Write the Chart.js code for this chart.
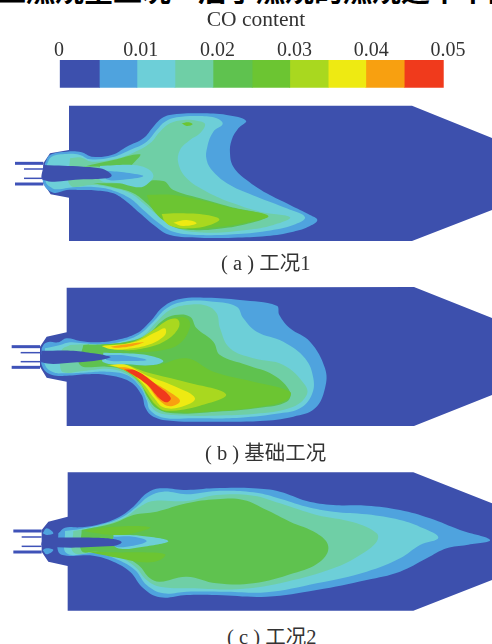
<!DOCTYPE html>
<html>
<head>
<meta charset="utf-8">
<script src="https://cdn.jsdelivr.net/npm/chart.js@4"></script>
<style>
html, body { margin: 0; padding: 0; background: #fff; overflow: hidden; }
canvas { position: absolute; left: 0; filter: blur(0.6px); }
.caption { position: absolute; left: 0; color: #333; font: 20.5px "Liberation Serif", "Noto Sans CJK SC", serif; white-space: pre; }
.cut { position: absolute; top: 0; height: 4px; overflow: hidden; white-space: pre; }
.cut span { position: relative; top: -27px; font: bold 29px/32px "Noto Sans CJK SC", sans-serif; color: #000; }
</style>
</head>
<body>
<div class="cut" style="left:-3px">工燃烧室工况</div>
<div class="cut" style="left:198px">后于燃烧的燃烧速率下降</div>
<canvas id="bar" width="492" height="100" style="top:0"></canvas>
<canvas id="a" width="492" height="150" style="top:100px"></canvas>
<canvas id="b" width="492" height="150" style="top:285px"></canvas>
<canvas id="c" width="492" height="150" style="top:465px"></canvas>
<div class="caption" style="left:221px;top:246px">( a ) 工况1</div>
<div class="caption" style="left:205px;top:436px">( b ) 基础工况</div>
<div class="caption" style="left:227px;top:620px">( c ) 工况2</div>
<script>
document.querySelectorAll('.cut').forEach(d => { d.innerHTML = '<span>' + d.textContent + '</span>'; });

const barTitle = 'CO content';
const tickLabels = ['0', '0.01', '0.02', '0.03', '0.04', '0.05'];
// band edges read against the tick labels
const bandEdges = [-0.0005, 0.0046, 0.0095, 0.01445, 0.0194, 0.0245, 0.0294, 0.0344, 0.0393, 0.0443, 0.0494];
const bandColors = ['#3d50ad', '#4fa3de', '#6dcfd8', '#6fcfa6', '#5fc24f', '#6cc532', '#a9d81f', '#eeea12', '#f8a010', '#f03a1c'];

// contours. units: 1/3 px from each panel's top left
const a_wall = [[207,17],[1236,17],[1476,114],[1476,330],[1236,423],[207,423],[207,293],[152,283],[130,250],[130,190],[150,160],[207,150],[207,17]];
const a_1 = [[135,190],[150,165],[200,155],[245,157],[275,170],[335,165],[380,140],[430,115],[460,80],[490,52],[530,42],[600,40],[680,45],[738,62],[715,85],[695,120],[690,160],[700,200],[740,240],[800,280],[870,315],[930,345],[952,360],[930,378],[880,395],[800,408],[700,413],[600,413],[510,405],[465,378],[420,340],[380,305],[340,280],[295,272],[240,270],[200,270],[160,278],[130,250],[135,190]];
const a_2 = [[140,195],[155,170],[200,162],[240,165],[270,178],[335,172],[390,150],[440,125],[470,90],[495,65],[530,52],[600,48],[650,55],[668,72],[640,95],[622,140],[620,180],[640,215],[690,255],[770,290],[860,325],[915,352],[880,375],[800,393],[700,403],[600,405],[520,395],[475,368],[430,330],[390,295],[340,272],[290,262],[220,262],[170,268],[150,260],[137,245],[140,195]];
const a_3 = [[210,175],[240,172],[275,185],[340,178],[400,158],[450,130],[480,95],[510,70],[550,60],[590,62],[615,72],[600,100],[570,120],[540,150],[535,190],[560,235],[620,275],[700,310],[780,335],[870,352],[820,375],[740,390],[620,398],[530,385],[480,352],[430,310],[390,280],[330,262],[280,255],[210,255],[210,175]];
const a_4_top = [[250,200],[340,180],[420,163],[400,190],[380,205],[300,200],[250,200]];
const a_4_low = [[280,250],[400,248],[490,243],[520,270],[600,295],[690,320],[800,348],[740,372],[650,387],[580,390],[520,380],[480,350],[440,310],[400,280],[340,262],[280,250]];
const a_5 = [[440,285],[520,285],[600,300],[700,325],[805,348],[730,370],[650,382],[560,387],[500,367],[460,330],[440,285]];
const a_5_eye = [[545,70],[565,67],[578,73],[560,78],[545,70]];
const a_6 = [[485,342],[540,340],[620,345],[658,358],[630,375],[570,385],[520,380],[495,365],[485,342]];
const a_7 = [[520,368],[560,360],[590,370],[550,378],[520,368]];
const a_wake_2 = [[300,198],[400,195],[440,205],[460,225],[450,245],[420,262],[360,250],[300,240],[300,198]];
const a_wake_1 = [[320,212],[380,218],[430,228],[380,238],[320,238],[320,212]];
const a_core = [[130,195],[250,200],[300,205],[325,215],[335,227],[320,235],[250,238],[130,240],[130,195]];
const a_pipes = [[[45,190],[130,190]], [[72,207],[130,207]], [[72,235],[130,235]], [[45,252],[130,252]]];

const b_wall = [[200,8],[1242,6],[1476,99],[1476,330],[1242,423],[200,423],[200,290],[140,278],[120,245],[120,185],[140,155],[200,142],[200,8]];
const b_1 = [[125,190],[135,175],[150,170],[175,172],[200,160],[240,168],[290,172],[350,165],[410,145],[450,110],[490,65],[540,42],[620,38],[720,45],[830,62],[838,90],[870,130],[930,170],[975,250],[975,310],[945,370],[880,395],[780,408],[640,410],[520,408],[460,395],[437,370],[425,330],[390,290],[320,270],[260,268],[200,272],[150,268],[125,240],[125,190]];
const b_2 = [[135,190],[180,180],[210,172],[250,175],[300,178],[360,170],[415,150],[460,110],[500,70],[550,50],[640,50],[710,65],[730,100],[770,140],[850,170],[915,220],[940,280],[935,330],[900,370],[840,385],[720,398],[580,400],[490,398],[450,375],[440,345],[420,305],[380,270],[320,260],[250,263],[190,265],[160,262],[135,240],[135,190]];
const b_3 = [[210,180],[260,178],[310,180],[370,172],[425,155],[470,110],[510,75],[560,60],[620,62],[650,85],[660,130],[690,190],[760,220],[850,240],[915,300],[920,330],[880,365],[780,385],[640,392],[520,390],[470,380],[445,350],[425,310],[385,270],[330,252],[250,258],[190,262],[180,240],[185,195],[210,180]];
const b_4 = [[250,180],[310,178],[380,170],[440,150],[490,105],[525,90],[570,95],[590,130],[640,170],[660,210],[740,240],[820,270],[870,320],[860,350],[780,368],[650,380],[520,385],[470,370],[445,340],[420,295],[370,255],[320,245],[240,240],[250,180]];
const b_5_top = [[300,180],[380,172],[430,158],[480,120],[520,100],[560,100],[570,125],[540,175],[490,195],[400,200],[300,180]];
const b_5_low = [[330,245],[470,240],[560,220],[640,260],[760,290],[870,320],[860,345],[780,365],[650,378],[520,382],[470,368],[440,330],[420,290],[370,250],[330,245]];
const b_6_top = [[310,182],[400,170],[460,135],[510,103],[535,105],[535,130],[500,165],[440,188],[360,195],[310,182]];
const b_6_low = [[320,240],[370,238],[440,262],[560,292],[678,328],[600,362],[500,377],[468,360],[438,320],[408,280],[370,254],[320,240]];
const b_7_top = [[305,183],[400,172],[470,140],[495,130],[495,150],[450,178],[380,192],[330,192],[305,183]];
const b_7_low = [[330,240],[372,238],[442,272],[522,303],[585,340],[540,367],[490,367],[463,340],[428,295],[380,256],[330,240]];
const b_8_top = [[330,185],[430,172],[400,182],[350,188],[330,185]];
const b_8_low = [[350,247],[388,250],[452,287],[512,323],[540,348],[510,364],[478,346],[438,296],[398,266],[350,247]];
const b_9 = [[372,253],[410,258],[470,300],[512,338],[500,352],[478,340],[440,298],[372,253]];
const b_wake_2 = [[310,203],[380,205],[450,212],[490,228],[460,240],[380,238],[310,232],[310,203]];
const b_wake_1 = [[320,210],[380,212],[440,225],[380,228],[320,225],[320,210]];
const b_core = [[125,197],[220,197],[280,205],[320,212],[332,217],[300,225],[230,232],[125,232],[125,197]];
const b_pipes = [[[35,185],[120,185]], [[62,203],[125,203]], [[62,230],[125,230]], [[35,247],[120,247]]];

const c_wall = [[203,22],[1240,22],[1476,115],[1476,345],[1240,437],[203,437],[203,303],[145,290],[125,260],[125,195],[145,170],[203,155],[203,22]];
const c_1 = [[175,205],[195,188],[240,187],[290,180],[350,160],[400,125],[440,85],[480,70],[560,75],[640,70],[760,70],[840,80],[920,108],[1000,120],[1100,122],[1200,135],[1290,160],[1380,195],[1470,225],[1400,240],[1340,250],[1280,280],[1200,320],[1100,345],[950,375],[800,395],[650,390],[560,390],[480,397],[430,370],[390,320],[340,290],[280,272],[200,272],[175,260],[175,205]];
const c_2 = [[195,198],[240,192],[300,180],[360,160],[410,125],[445,95],[490,80],[560,88],[650,78],[760,82],[830,98],[920,125],[1000,140],[1100,148],[1200,165],[1270,190],[1315,218],[1260,240],[1200,280],[1100,320],[950,355],[800,382],[680,380],[560,380],[490,385],[440,360],[405,315],[355,285],[290,265],[200,265],[195,198]];
const c_3 = [[220,198],[290,185],[370,160],[420,125],[460,108],[560,108],[650,90],[760,92],[840,115],[950,150],[1060,172],[1130,205],[1130,230],[1080,270],[1000,310],[860,350],[720,372],[570,370],[480,365],[440,345],[405,305],[355,275],[290,262],[220,262],[220,198]];
const c_4 = [[245,195],[340,175],[400,150],[470,140],[560,115],[650,103],[730,105],[800,135],[870,170],[950,205],[985,245],[960,290],[880,325],[760,355],[650,355],[560,335],[480,350],[450,340],[415,300],[360,270],[290,260],[245,258],[245,195]];
const c_5_top = [[250,197],[340,185],[450,187],[400,205],[340,210],[290,205],[250,197]];
const c_5_low = [[250,258],[340,262],[420,262],[495,268],[480,285],[430,292],[360,280],[250,258]];
const c_wake_2 = [[340,210],[420,212],[505,228],[430,245],[350,248],[340,210]];
const c_wake_1 = [[340,215],[400,215],[440,228],[400,242],[340,243],[340,215]];
const c_core = [[128,218],[280,218],[340,222],[365,232],[340,243],[128,243],[128,218]];
const c_tip_top = [[128,205],[140,190],[160,205],[140,210],[128,205]];
const c_tip_low = [[128,255],[140,250],[160,255],[140,268],[128,255]];
const c_pipes = [[[40,198],[125,198]], [[65,216],[125,216]], [[65,244],[125,244]], [[40,261],[125,261]]];

function toXY(list) {
    return list.map(p => ({ x: p[0], y: p[1] }));
}

// filled contour. band = index in bandColors
function area(points, band, corners) {
    return {
        data: toXY(points),
        showLine: true,
        fill: 'shape',
        backgroundColor: bandColors[band],
        borderColor: bandColors[band],
        borderWidth: 0,
        pointRadius: 0,
        tension: corners ? 0 : 0.4
    };
}

function pipe(points, width) {
    return {
        data: toXY(points),
        showLine: true,
        fill: false,
        borderColor: '#3f52b8',
        borderWidth: width,
        pointRadius: 0,
        tension: 0
    };
}

function panel(id, wall, layers, core, pipes) {
    let sets = [area(wall, 0, true)];
    layers.forEach(l => sets.push(area(l[0], l[1])));
    sets.push(area(core, 0));
    sets.push(pipe(pipes[0], 3), pipe(pipes[1], 1.5), pipe(pipes[2], 1.5), pipe(pipes[3], 3));
    // chart.js paints the first dataset last
    sets.reverse();
    new Chart(document.getElementById(id), {
        type: 'scatter',
        data: { datasets: sets },
        options: {
            responsive: false,
            animation: false,
            layout: { padding: 0 },
            plugins: { legend: { display: false }, tooltip: { enabled: false } },
            scales: {
                x: { display: false, min: 0, max: 1476 },
                y: { display: false, min: 0, max: 450, reverse: true }
            }
        }
    });
}

new Chart(document.getElementById('bar'), {
    type: 'bar',
    data: {
        labels: [''],
        datasets: bandColors.map((col, i) => ({
            data: [[bandEdges[i], bandEdges[i + 1]]],
            backgroundColor: col,
            barThickness: 27,
            grouped: false,
            clip: false
        }))
    },
    options: {
        indexAxis: 'y',
        responsive: false,
        animation: false,
        layout: { padding: { left: 64, right: 44, bottom: 25 } },
        plugins: {
            legend: { display: false },
            tooltip: { enabled: false },
            title: {
                display: true,
                text: barTitle,
                color: '#333',
                font: { family: 'Liberation Serif', size: 21.5, weight: 'normal' },
                padding: { top: 7, bottom: 4 }
            }
        },
        scales: {
            y: { display: false },
            x: {
                position: 'top',
                min: 0,
                max: 0.05,
                grid: { display: false },
                border: { display: false },
                ticks: {
                    stepSize: 0.01,
                    padding: 2,
                    maxRotation: 0,
                    color: '#333',
                    font: { family: 'Liberation Serif', size: 20 },
                    callback: v => v === 0 ? tickLabels[0] + '  ' : tickLabels[Math.round(v / 0.01)]
                }
            }
        }
    }
});

panel('a', a_wall, [[a_1, 1], [a_2, 2], [a_3, 3], [a_4_top, 4], [a_4_low, 4], [a_5, 5], [a_5_eye, 5], [a_6, 6], [a_7, 7], [a_wake_2, 2], [a_wake_1, 1]], a_core, a_pipes);
panel('b', b_wall, [[b_1, 1], [b_2, 2], [b_3, 3], [b_4, 4], [b_5_top, 5], [b_5_low, 5], [b_6_top, 6], [b_6_low, 6], [b_7_top, 7], [b_7_low, 7], [b_8_top, 8], [b_8_low, 8], [b_9, 9], [b_wake_2, 2], [b_wake_1, 1]], b_core, b_pipes);
panel('c', c_wall, [[c_tip_top, 1], [c_tip_low, 1], [c_1, 1], [c_2, 2], [c_3, 3], [c_4, 4], [c_5_top, 5], [c_5_low, 5], [c_wake_2, 2], [c_wake_1, 1]], c_core, c_pipes);
</script>
</body>
</html>
